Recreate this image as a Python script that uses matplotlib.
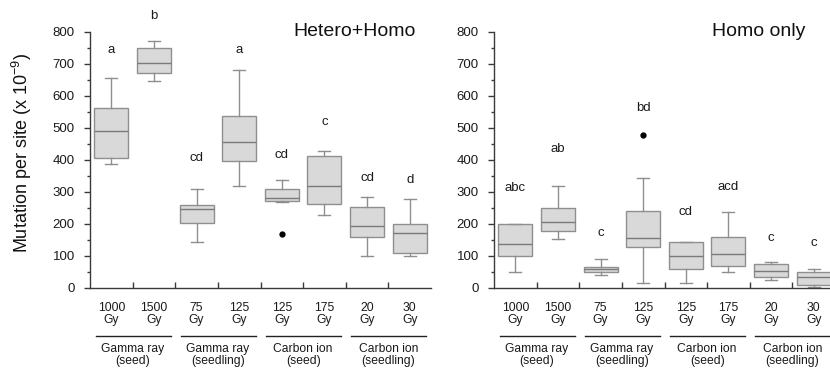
import matplotlib
matplotlib.use("Agg")
import matplotlib.pyplot as plt
import matplotlib.transforms as mtransforms
from matplotlib.ticker import MultipleLocator

plt.rcParams['font.family'] = ['Liberation Sans', 'DejaVu Sans']
plt.rcParams['mathtext.default'] = 'regular'

dose_labels = ["1000\nGy", "1500\nGy", "75\nGy", "125\nGy", "125\nGy", "175\nGy", "20\nGy", "30\nGy"]
group_labels = ["Gamma ray\n(seed)", "Gamma ray\n(seedling)", "Carbon ion\n(seed)", "Carbon ion\n(seedling)"]

# Hetero+Homo
hh_whislo = [387, 648, 143, 320, 269, 227, 100, 101]
hh_q1     = [405, 671, 203, 396, 271, 261, 160, 109]
hh_med    = [490, 702, 248, 455, 281, 320, 193, 171]
hh_q3     = [563, 751, 260, 539, 310, 411, 252, 201]
hh_whishi = [656, 773, 310, 681, 336, 429, 285, 277]
hh_fliers = [[], [], [], [], [169], [], [], []]
hh_letters = ["a", "b", "cd", "a", "cd", "c", "cd", "d"]
hh_letter_y = [744, 851, 406, 744, 417, 519, 343, 337]

# Homo only
ho_whislo = [49, 152, 42, 17, 17, 49, 25, 4]
ho_q1     = [101, 177, 51, 127, 60, 68, 33, 8]
ho_med    = [139, 205, 58, 157, 101, 105, 53, 34]
ho_q3     = [201, 251, 67, 242, 143, 158, 76, 49]
ho_whishi = [201, 320, 92, 344, 143, 236, 82, 58]
ho_fliers = [[], [], [], [479], [], [], [], []]
ho_letters = ["abc", "ab", "c", "bd", "cd", "acd", "c", "c"]
ho_letter_y = [311, 435, 171, 561, 237, 316, 155, 142]

titles = ["Hetero+Homo", "Homo only"]
title_x = [0.956, 0.912]

fig = plt.figure(figsize=(8.3, 3.7), dpi=100)
ax_w = 341 / 830
ax_h = 256 / 370
ax_b = 82 / 370
ax1 = fig.add_axes([90 / 830, ax_b, ax_w, ax_h])
ax2 = fig.add_axes([494 / 830, ax_b, ax_w, ax_h])

edge = '#8f8f8f'
fill = '#d9d9d9'
spine_c = '#3a3a3a'
txt_c = '#1a1a1a'

def draw(ax, lo, q1, med, q3, hi, fl, letters, ly, title, tx):
    stats = []
    for i in range(len(med)):
        stats.append(dict(whislo=lo[i], q1=q1[i], med=med[i], q3=q3[i], whishi=hi[i], fliers=fl[i]))
    pos = list(range(len(med)))
    ax.bxp(stats, positions=pos, widths=0.8, capwidths=0.28, patch_artist=True, showfliers=True,
           boxprops=dict(facecolor=fill, edgecolor=edge, linewidth=1.0),
           medianprops=dict(color='#7a7a7a', linewidth=1.0),
           whiskerprops=dict(color=edge, linewidth=1.0),
           capprops=dict(color=edge, linewidth=1.0),
           flierprops=dict(marker='o', markersize=3.5, markerfacecolor='black', markeredgecolor='black'))
    ax.set_xlim(-0.5, len(med) - 0.5)
    ax.set_ylim(0, 800)
    ax.yaxis.set_major_locator(MultipleLocator(100))
    ax.yaxis.set_minor_locator(MultipleLocator(50))
    ax.set_xticks([i + 0.5 for i in range(len(med) - 1)])
    ax.set_xticklabels([])
    ax.tick_params(axis='x', direction='in', length=4, color=spine_c, width=1)
    ax.tick_params(axis='y', which='major', direction='out', length=4, color=spine_c, width=1,
                   labelsize=9.5, labelcolor=txt_c, pad=7)
    ax.tick_params(axis='y', which='minor', direction='out', length=2.5, color=spine_c, width=1)
    for s in ['top', 'right']:
        ax.spines[s].set_visible(False)
    for s in ['left', 'bottom']:
        ax.spines[s].set_color(spine_c)
        ax.spines[s].set_linewidth(1.0)
    for i, (t, y) in enumerate(zip(letters, ly)):
        ax.text(i, y, t, ha='center', va='center', fontsize=9.5, color=txt_c, clip_on=False)
    ax.text(tx, 1.0, title, transform=ax.transAxes, ha='right', va='center', fontsize=14, color='#111111')
    trans = mtransforms.blended_transform_factory(ax.transData, ax.transAxes)
    for i, lab in enumerate(dose_labels):
        ax.text(i, -0.102, lab, transform=trans, ha='center', va='center', fontsize=8.7,
                linespacing=1.0, color=txt_c, clip_on=False)
    for g, lab in enumerate(group_labels):
        x0 = 2 * g - 0.5 + 0.13
        x1 = 2 * g + 1.5 - 0.11
        ax.plot([x0, x1], [-0.1875, -0.1875], transform=trans, color='#222222', linewidth=1.0, clip_on=False)
        ax.text(2 * g + 0.5, -0.262, lab, transform=trans, ha='center', va='center', fontsize=8.7,
                linespacing=1.0, color=txt_c, clip_on=False)

draw(ax1, hh_whislo, hh_q1, hh_med, hh_q3, hh_whishi, hh_fliers, hh_letters, hh_letter_y, titles[0], title_x[0])
draw(ax2, ho_whislo, ho_q1, ho_med, ho_q3, ho_whishi, ho_fliers, ho_letters, ho_letter_y, titles[1], title_x[1])

fig.text(22 / 830, 1 - 153 / 370, "Mutation per site (x 10$^{-9}$)", rotation=90, ha='center', va='center',
         fontsize=13, color='#111111')

fig.savefig("out.png", dpi=100)
